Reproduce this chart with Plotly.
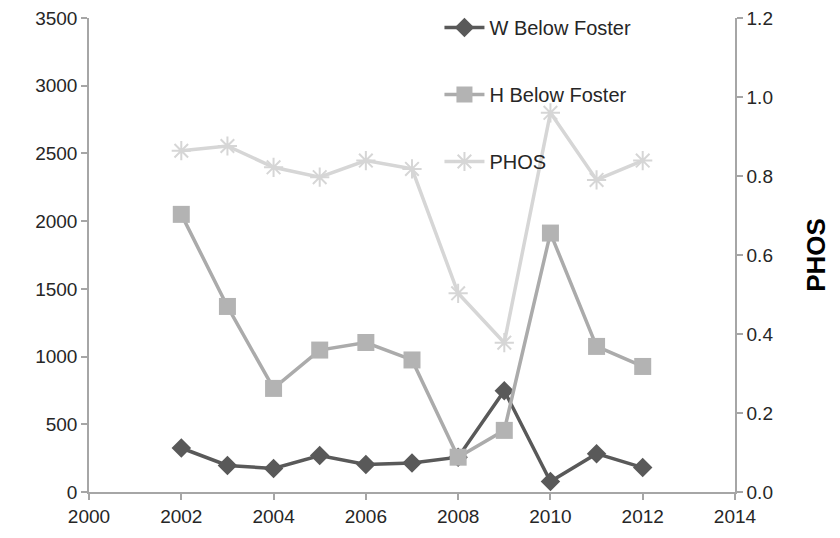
import plotly.graph_objects as go

years = [2002, 2003, 2004, 2005, 2006, 2007, 2008, 2009, 2010, 2011, 2012]
w_below_foster = [325, 196, 174, 269, 203, 215, 257, 748, 78, 283, 180]
h_below_foster = [2050, 1370, 765, 1048, 1104, 975, 257, 455, 1912, 1075, 927]
phos = [0.864, 0.876, 0.822, 0.797, 0.839, 0.818, 0.503, 0.378, 0.960, 0.790, 0.839]

font_family = "Liberation Sans, Arial, sans-serif"
axis_color = "#A6A6A6"
text_color = "#262626"

fig = go.Figure()
fig.add_trace(go.Scatter(
    x=years, y=w_below_foster, name="W Below Foster", mode="lines+markers",
    line=dict(color="#595959", width=3.5),
    marker=dict(symbol="diamond", size=15, color="#595959"),
    legendgroup="a",
))
fig.add_trace(go.Scatter(
    x=years, y=h_below_foster, name="H Below Foster", mode="lines+markers",
    line=dict(color="#ABABAB", width=3.5),
    marker=dict(symbol="square", size=17, color="#B3B3B3"),
    legendgroup="b",
))
fig.add_trace(go.Scatter(
    x=years, y=phos, name="PHOS", mode="lines+markers", yaxis="y2",
    line=dict(color="#D6D6D6", width=3.5),
    marker=dict(symbol="asterisk-open", size=16, color="#D6D6D6",
                line=dict(color="#D6D6D6", width=2)),
    legendgroup="c",
))

axis_common = dict(showgrid=False, zeroline=False, showline=True,
                   linecolor=axis_color, linewidth=1.5, ticks="outside",
                   ticklen=6, tickcolor=axis_color, tickwidth=1.5,
                   automargin=False, ticklabeloverflow="allow")

fig.update_layout(
    width=832, height=530,
    margin=dict(l=81, r=105, t=10, b=46, autoexpand=False),
    paper_bgcolor="white", plot_bgcolor="white",
    font=dict(family=font_family, size=19, color=text_color),
    showlegend=True,
    legend=dict(x=0.5425, y=1.031, xanchor="left", yanchor="top",
                yref="container",
                bgcolor="rgba(0,0,0,0)", traceorder="grouped",
                tracegroupgap=38, font=dict(size=20, color=text_color),
                itemwidth=40),
    xaxis=dict(range=[2000, 2014], dtick=2, tick0=2000, **axis_common),
    yaxis=dict(range=[0, 3500], dtick=500, **axis_common),
    yaxis2=dict(range=[0, 1.2], dtick=0.2, tickformat=".1f", overlaying="y",
                side="right", **axis_common,
                title=dict(text="<b>PHOS</b>", font=dict(size=26, color="black"),
                           standoff=34)),
)

fig.write_html("out.html")
